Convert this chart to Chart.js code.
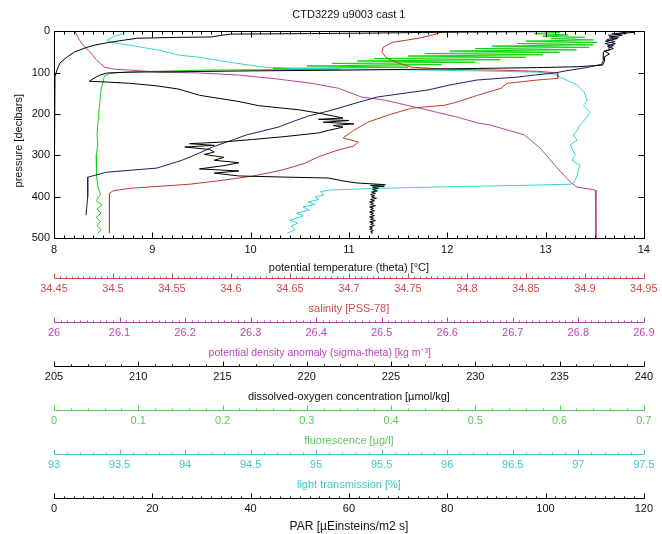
<!DOCTYPE html>
<html><head><meta charset="utf-8">
<script src="https://cdn.jsdelivr.net/npm/chart.js@4/dist/chart.umd.min.js"></script>
<style>html,body{margin:0;padding:0;background:#fff}canvas{display:block}</style>
</head><body>
<canvas id="c" width="662" height="534"></canvas>
<script>
// ---------- tick labels ----------
const presTicks = ['0','100','200','300','400','500'];
const tempTicks = ['8','9','10','11','12','13','14'];
const salTicks  = ['34.45','34.5','34.55','34.6','34.65','34.7','34.75','34.8','34.85','34.9','34.95'];
const sigTicks  = ['26','26.1','26.2','26.3','26.4','26.5','26.6','26.7','26.8','26.9'];
const oxTicks   = ['205','210','215','220','225','230','235','240'];
const flTicks   = ['0','0.1','0.2','0.3','0.4','0.5','0.6','0.7'];
const trTicks   = ['93','93.5','94','94.5','95','95.5','96','96.5','97','97.5'];
const parTicks  = ['0','20','40','60','80','100','120'];

// ---------- series (pressure [dbar], value) ----------
const tempP = [0,3,6,10,14,18,24,30,36,42,48,55,62,72,82,86,88,90,92,94,96,98,99,101,106,113,121,123,126,132,140,155,170,180,190,198,205,210,213,216,220,224,228,232,240,246,255,262,268,272,276,280,286,292,298,305,312,318,325,333,338,343,350,353,355,362,367,371,373,375,377,380,383,386,389,392,395,398,401,404,407,410,413,416,419,422,425,428,431,434,437,440,443,446,449,452,455,458,461,464,467,470,473,476,479,482,485,488,490];
const tempV = [13.83,13.90,13.68,13.78,13.65,13.73,13.61,13.71,13.63,13.69,13.60,13.65,13.60,13.60,13.58,13.32,12.92,12.31,11.70,11.00,9.98,9.27,8.77,8.54,8.47,8.41,8.36,8.54,8.77,9.04,9.27,9.48,9.88,10.08,10.49,10.69,10.84,10.94,10.69,11.00,10.74,11.05,10.84,10.94,10.79,10.69,10.34,10.01,9.71,9.38,9.63,9.33,9.58,9.63,9.53,9.73,9.63,9.88,9.73,9.48,9.88,9.63,9.88,10.39,10.79,10.94,11.08,11.37,11.22,11.36,11.24,11.30,11.24,11.29,11.23,11.27,11.22,11.26,11.23,11.28,11.22,11.26,11.21,11.25,11.22,11.27,11.21,11.25,11.22,11.26,11.21,11.25,11.22,11.26,11.21,11.25,11.22,11.27,11.21,11.25,11.22,11.26,11.21,11.24,11.21,11.25,11.22,11.24,11.23];

const salP = [0,7,17,27,39,51,65,77,87,92,94,97,101,114,118,126,138,155,171,179,186,203,220,240,258,268,278,287,304,320,336,350,360,370,380,386,392,488];
const salV = [34.780,34.774,34.759,34.737,34.729,34.728,34.732,34.742,34.753,34.784,34.826,34.860,34.877,34.877,34.860,34.834,34.829,34.809,34.792,34.781,34.753,34.733,34.716,34.704,34.695,34.708,34.704,34.691,34.674,34.662,34.643,34.619,34.594,34.565,34.514,34.500,34.497,34.497];

const sigP = [0,14,34,46,58,70,77,87,92,94,99,101,106,116,126,138,159,167,191,208,222,227,251,283,331,365,377,384,500];
const sigV = [26.032,26.036,26.044,26.052,26.059,26.065,26.070,26.077,26.093,26.115,26.161,26.222,26.282,26.343,26.393,26.434,26.469,26.506,26.571,26.616,26.647,26.666,26.718,26.742,26.768,26.788,26.798,26.826,26.827];

const oxP = [0,5,10,15,20,25,30,35,40,45,50,60,70,80,88,95,101,106,111,118,130,142,159,175,186,196,205,218,232,242,251,263,280,295,312,331,341,353,400,445];
const oxV = [238.4,239.0,237.9,238.5,237.8,238.3,237.7,238.2,237.9,238.0,237.6,237.6,237.6,237.5,236.6,235.5,234.7,233.5,232.5,230.1,228.5,227.2,224.2,222.8,221.9,221.0,220.1,219.2,218.3,217.3,216.4,215.6,214.4,213.6,212.6,211.1,208.1,207.0,207.0,206.9];

const flP = [0,3,6,9,12,15,18,21,24,27,30,33,36,39,42,45,48,51,54,57,60,63,66,69,72,75,78,81,84,87,90,92,94,96,98,100,103,108,115,125,140,160,180,200,225,250,275,300,325,350,375,395,410,420,430,440,450,460,470,480,488];
const flV = [0.58,0.60,0.57,0.61,0.58,0.63,0.59,0.64,0.56,0.645,0.55,0.64,0.52,0.635,0.50,0.62,0.47,0.60,0.44,0.58,0.42,0.56,0.38,0.53,0.36,0.50,0.33,0.46,0.30,0.42,0.26,0.34,0.18,0.14,0.10,0.075,0.065,0.060,0.059,0.058,0.056,0.055,0.054,0.053,0.052,0.051,0.052,0.050,0.051,0.050,0.052,0.055,0.050,0.057,0.051,0.056,0.050,0.055,0.051,0.056,0.052];

const trP = [0,5,12,22,27,34,46,58,63,75,87,90,93,96,99,104,114,130,147,167,180,196,210,227,240,251,263,275,288,300,312,324,336,348,365,370,373,376,380,384,388,396,401,407,413,419,425,432,440,447,457,464,471,480,488];
const trV = [93.524,93.539,93.463,93.402,93.440,93.577,93.804,93.956,94.108,94.336,94.601,94.867,95.626,96.233,96.688,96.817,96.878,96.992,97.045,97.067,97.040,97.090,97.060,97.014,96.990,96.960,96.990,96.938,96.960,96.976,96.950,97.014,97.000,96.992,96.969,96.946,96.536,96.005,95.474,95.10,95.034,95.06,94.99,95.02,94.94,94.99,94.90,94.95,94.85,94.90,94.80,94.86,94.81,94.84,94.78];

const parP = [0,1,2,3,5,7,10,14,15,17,22,27,33,39,50,63,77,94,110,130,200,300,400,490];
const parV = [118,100,86,75,61,36,34,32,25,17,14,11.3,8.5,6.7,4.2,2.6,1.2,0.6,0.2,0,0,0,0,0];

// ---------- styling ----------
const FONT = "'Liberation Sans', Arial, sans-serif";
Chart.defaults.font.family = FONT;
Chart.defaults.font.size = 11;

const deco = {
  x:    {major: 1,    minor: 0.1},
  xSal: {major: 0.05, minor: 0.005, color: '#cc4a4a'},
  xSig: {major: 0.1,  minor: 0.01,  color: '#b844b8'},
  xOx:  {major: 5,    minor: 1,     color: '#000000'},
  xFl:  {major: 0.1,  minor: 0.02,  color: '#5ac85a'},
  xTr:  {major: 0.5,  minor: 0.1,   color: '#40c8c8'},
  xPar: {major: 20,   minor: 2,     color: '#000000'}
};

function axis(labels, title, color, weight, height, pad, tpb, tsize) {
  return {
    type: 'linear', position: 'bottom', weight: weight,
    min: parseFloat(labels[0]), max: parseFloat(labels[labels.length - 1]),
    afterFit: s => { s.height = height; },
    afterBuildTicks: s => { s.ticks = labels.map(l => ({value: parseFloat(l)})); },
    grid: {display: false, drawTicks: false},
    border: {display: false},
    ticks: {autoSkip: false, maxRotation: 0, minRotation: 0, padding: pad, color: color,
            font: {size: 11}, callback: (v, i) => labels[i]},
    title: {display: true, text: title, color: color, font: {size: tsize || 11},
            padding: {top: 0, bottom: tpb}}
  };
}

const tickPlugin = {
  id: 'mtTicks',
  afterDatasetsDraw(chart) {
    const ctx = chart.ctx, ca = chart.chartArea;
    const L = Math.round(ca.left) + 0.5, R = Math.round(ca.right) + 0.5;
    const T = Math.round(ca.top) + 0.5, B = Math.round(ca.bottom) + 0.5;
    const each = (s, d, fn) => {
      const n = Math.round((s.max - s.min) / d.minor);
      for (let k = 0; k <= n; k++) {
        const v = s.min + k * d.minor;
        const r = (v - s.min) / d.major;
        fn(Math.round(s.getPixelForValue(v)) + 0.5, Math.abs(r - Math.round(r)) < 1e-6);
      }
    };
    ctx.save();
    ctx.lineWidth = 1;
    ctx.strokeStyle = '#000';
    ctx.strokeRect(L, T, R - L, B - T);
    ctx.beginPath();
    each(chart.scales.x, deco.x, (px, major) => {
      const len = major ? 6 : 3;
      ctx.moveTo(px, B); ctx.lineTo(px, B - len);
      ctx.moveTo(px, T); ctx.lineTo(px, T + len);
    });
    const sy = chart.scales.y;
    presTicks.forEach(l => {
      const py = Math.round(sy.getPixelForValue(parseFloat(l))) + 0.5;
      ctx.moveTo(L, py); ctx.lineTo(L + 6, py);
      ctx.moveTo(R, py); ctx.lineTo(R - 6, py);
    });
    ctx.stroke();
    ['xSal','xSig','xOx','xFl','xTr','xPar'].forEach(id => {
      const s = chart.scales[id], d = deco[id];
      const y = Math.round(s.top) + 0.5;
      ctx.strokeStyle = d.color;
      ctx.beginPath();
      ctx.moveTo(Math.round(s.left) + 0.5, y); ctx.lineTo(Math.round(s.right) + 0.5, y);
      each(s, d, (px, major) => { const len = major ? 5 : 2; ctx.moveTo(px, y); ctx.lineTo(px, y - len); });
      ctx.stroke();
    });
    ctx.restore();
  }
};

const mk = (P, V) => {
  if (P.length !== V.length) throw new Error('length mismatch ' + P.length + ' vs ' + V.length);
  return P.map((p, i) => ({x: V[i], y: p}));
};
const line = (label, P, V, axisId, color) => ({
  label, data: mk(P, V), xAxisID: axisId, yAxisID: 'y', borderColor: color,
  borderWidth: 1, pointRadius: 0, showLine: true, fill: false, tension: 0
});

const sigTitle = 'potential density anomaly (sigma-theta) [kg m\u207B\u00B3]' + ' '.repeat(20);

new Chart(document.getElementById('c'), {
  type: 'scatter',
  data: {
    datasets: [
      line('theta', tempP, tempV, 'x', '#000000'),
      line('PAR', parP, parV, 'xPar', '#000000'),
      line('oxygen', oxP, oxV, 'xOx', '#1e1e60'),
      line('salinity', salP, salV, 'xSal', '#c03a30'),
      line('sigma-theta', sigP, sigV, 'xSig', '#b8458e'),
      line('transmission', trP, trV, 'xTr', '#35d5cf'),
      line('fluorescence', flP, flV, 'xFl', '#14d014')
    ]
  },
  options: {
    responsive: false, animation: false, devicePixelRatio: 1, events: [],
    layout: {padding: {left: 0, right: 15, top: 0, bottom: 0}},
    plugins: {
      legend: {display: false}, tooltip: {enabled: false},
      title: {display: true, text: 'CTD3229 u9003 cast 1', fullSize: false, color: '#111',
              font: {size: 11, weight: 'normal'}, padding: {top: 8, bottom: 10}}
    },
    scales: {
      y: {
        type: 'linear', position: 'left', reverse: true,
        min: parseFloat(presTicks[0]), max: parseFloat(presTicks[presTicks.length - 1]),
        afterFit: s => { s.width = 54; },
        afterBuildTicks: s => { s.ticks = presTicks.map(l => ({value: parseFloat(l)})); },
        grid: {display: false, drawTicks: false}, border: {display: false},
        ticks: {padding: 4, color: '#111', callback: (v, i) => presTicks[i]},
        title: {display: true, text: 'pressure [decibars]    ', color: '#111', padding: {top: 12.4, bottom: 0}}
      },
      x:    axis(tempTicks, 'potential temperature (theta) [°C]', '#111', 0, 40, 5.4, 3.4),
      xSal: axis(salTicks, 'salinity [PSS-78]', deco.xSal.color, 1, 44, 4.4, 6.4),
      xSig: axis(sigTicks, sigTitle, deco.xSig.color, 2, 44, 4.4, 6.4, 10.5),
      xOx:  axis(oxTicks, 'dissolved-oxygen concentration [\u00B5mol/kg]', '#111', 3, 44, 4.4, 6.4),
      xFl:  axis(flTicks, 'fluorescence [\u00B5g/l]', deco.xFl.color, 4, 44, 4.4, 6.4),
      xTr:  axis(trTicks, 'light transmission [%]', deco.xTr.color, 5, 44, 4.4, 6.4),
      xPar: axis(parTicks, 'PAR [\u00B5Einsteins/m2 s]', '#111', 6, 36, 4.4, 0, 12)
    }
  },
  plugins: [tickPlugin]
});
</script>
</body></html>
